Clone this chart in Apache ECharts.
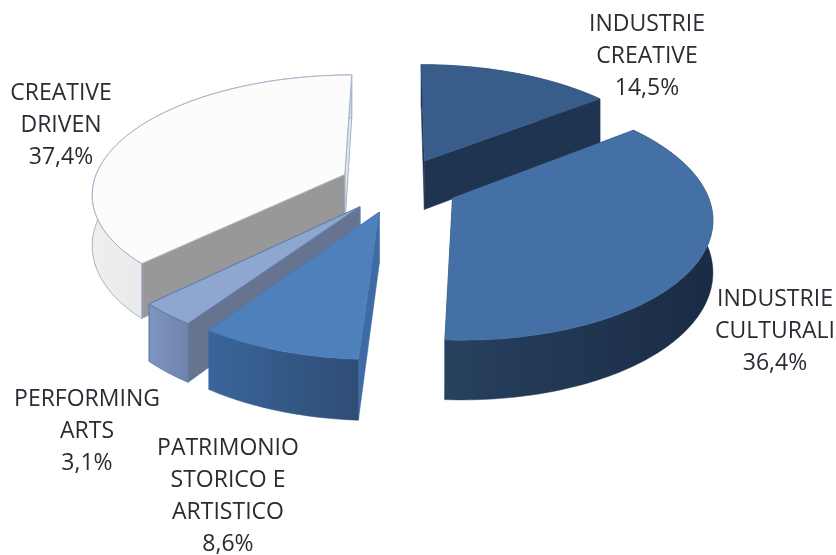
<!DOCTYPE html>
<html><head><meta charset="utf-8">
<script src="https://cdn.jsdelivr.net/npm/echarts@6/dist/echarts.min.js"></script>
<style>html,body{margin:0;background:#fff}#c{width:836px;height:555px}</style></head>
<body><div id="c"></div>
<script>
var categories = ['INDUSTRIE\nCREATIVE', 'INDUSTRIE\nCULTURALI', 'PATRIMONIO\nSTORICO E\nARTISTICO', 'PERFORMING\nARTS', 'CREATIVE\nDRIVEN'];
var values = [14.5, 36.4, 8.6, 3.1, 37.4];

// Paint order, back to front (indexes into the lists above)
var paintOrder = [4, 0, 3, 2, 1];
var labelAt = [[647, 8], [775, 283], [228, 432], [87, 383], [61, 77]];
function hGrad(a, b) { return {type: 'linear', x: 0, y: 0, x2: 1, y2: 0, colorStops: [{offset: 0, color: a}, {offset: 1, color: b}]}; }
var skins = [
  {top: '#385d8a', outer: '#1f3450', wStart: '#1f3450', wEnd: '#1f3450'},
  {top: '#4470a5', outer: hGrad('#27415f', '#1a2b44'), wStart: '#27415f', wEnd: '#1f3450'},
  {top: '#4e80bc', outer: hGrad('#3a659a', '#2f4d75'), wStart: '#3e6ba3', wEnd: '#3a659a'},
  {top: '#8fa7d0', outer: hGrad('#7f95c0', '#6f83ab'), wStart: '#66748f', wEnd: '#66748f', line: '#5f7fae'},
  {top: '#fcfcfd', outer: hGrad('#efefef', '#d6d6d6'), wStart: '#989898', wEnd: '#e6e6e6', line: '#a3b3c9'}
];
// projection of the exploded, tilted disc
var CX = 399, CY = 185, RX = 252, RY = 117, P = 0.147, EXPLODE = 0.236, DEPTH = 50;
function project(X, Y, z) {
  var s = 1 / (1 - P * Y);
  return [CX + RX * X * s, CY + (RY * Y + z) * s];
}
var total = values.reduce(function (a, b) { return a + b; }, 0);
function startAngle(i) {
  var sum = 0;
  for (var k = 0; k < i; k++) sum += values[k];
  return sum / total * 2 * Math.PI;
}
function renderItem(params, api) {
  var i = params.dataIndex;
  var a0 = startAngle(i), a1 = a0 + api.value(0) / total * 2 * Math.PI, mid = (a0 + a1) / 2;
  var ox = EXPLODE * Math.sin(mid), oy = -EXPLODE * Math.cos(mid);
  var n = Math.max(2, Math.ceil((a1 - a0) / 0.02));
  var topRim = [], botRim = [];
  for (var k = 0; k <= n; k++) {
    var a = a0 + (a1 - a0) * k / n;
    var X = ox + Math.sin(a), Y = oy - Math.cos(a);
    topRim.push(project(X, Y, 0));
    botRim.push(project(X, Y, DEPTH));
  }
  var apexT = project(ox, oy, 0), apexB = project(ox, oy, DEPTH);
  var skin = skins[i], rank = paintOrder.indexOf(i) * 10;
  function poly(points, fill, z, stroke) {
    return {type: 'polygon', z2: rank + z, shape: {points: points},
      style: {fill: fill, stroke: stroke || fill, lineWidth: stroke ? 1 : 0.5}};
  }
  return {type: 'group', children: [
    poly([apexT, topRim[n], botRim[n], apexB], skin.wEnd, 1, skin.line),
    poly([apexT, topRim[0], botRim[0], apexB], skin.wStart, 2, skin.line),
    poly(topRim.concat(botRim.slice().reverse()), skin.outer, 3, skin.line),
    poly([apexT].concat(topRim), skin.top, 4, skin.line),
    {type: 'text', z2: 100, x: labelAt[i][0], y: labelAt[i][1], style: {
      text: categories[i] + '\n' + api.value(0).toFixed(1).replace('.', ',') + '%',
      font: '23px "Open Sans"', fill: '#2b2b33', align: 'center', verticalAlign: 'top', lineHeight: 32
    }}
  ]};
}
var chart = echarts.init(document.getElementById('c'), null, {renderer: 'canvas'});
chart.setOption({
  animation: false,
  backgroundColor: '#ffffff',
  series: [{type: 'custom', coordinateSystem: 'none', renderItem: renderItem, silent: true,
    data: values.map(function (v) { return [v]; })}]
});
</script></body></html>
